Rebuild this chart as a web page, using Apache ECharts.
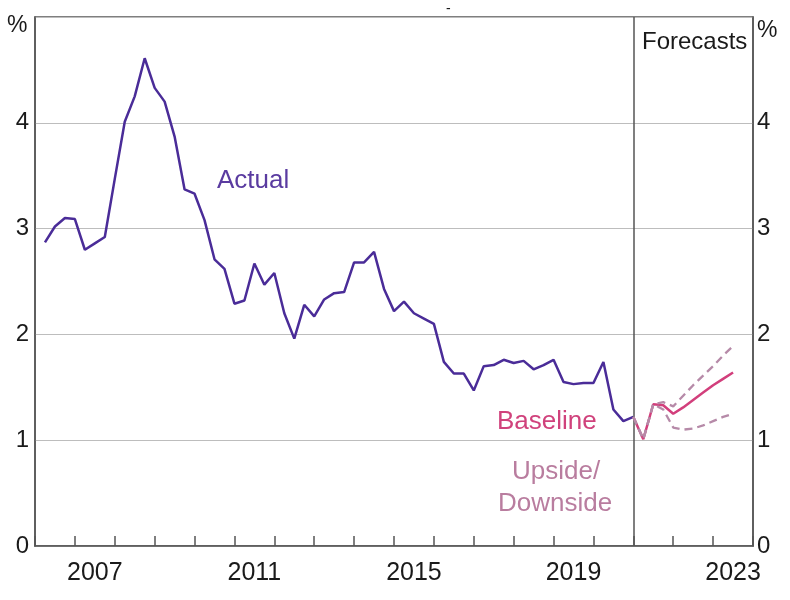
<!DOCTYPE html>
<html>
<head>
<meta charset="utf-8">
<script src="https://cdn.jsdelivr.net/npm/echarts@6/dist/echarts.min.js"></script>
<style>html,body{margin:0;padding:0;background:#fff}#c{width:790px;height:600px}</style>
</head>
<body>
<div id="c"></div>
<script>
// Quarterly data, plotted at end of quarter (year fraction)
const actualStart = 2006.25;
const actualValues = [2.87,3.02,3.10,3.09,2.80,2.86,2.92,3.47,4.01,4.25,4.61,4.33,4.20,3.87,3.37,3.33,
  3.08,2.71,2.62,2.29,2.32,2.67,2.47,2.58,2.20,1.96,2.28,2.17,2.33,2.39,2.40,2.68,2.68,2.78,2.43,2.22,
  2.31,2.20,2.15,2.10,1.74,1.63,1.63,1.47,1.70,1.71,1.76,1.73,1.75,1.67,1.71,1.76,1.55,1.53,1.54,1.54,
  1.74,1.29,1.18,1.22];
const forecastStart = 2021.0;
const baselineValues = [1.22,1.01,1.34,1.33,1.25,1.31,1.38,1.45,1.52,1.58,1.64];
const upsideValues   = [1.22,1.01,1.34,1.36,1.32,1.42,1.52,1.61,1.70,1.80,1.89];
const downsideValues = [1.22,1.01,1.34,1.29,1.12,1.10,1.11,1.14,1.18,1.22,1.25];
const xTickLabels = ['2007','2011','2015','2019','2023'];
const yTickValues = [0,1,2,3,4];
const forecastLine = 2021;

function pairs(start, vals){ return vals.map((v,i)=>[start + i*0.25, v]); }

const FONT = 'Liberation Sans, Arial, sans-serif';
const AX = '#555555';
const chart = echarts.init(document.getElementById('c'));
chart.setOption({
  animation:false,
  backgroundColor:'#ffffff',
  grid:{left:35,right:37,top:17,bottom:54,show:true,borderColor:AX,borderWidth:1.5,backgroundColor:'transparent'},
  xAxis:[{
    type:'value',min:2006,max:2024,interval:1,
    axisLine:{show:true,lineStyle:{color:AX,width:1.5}},
    axisTick:{show:true,inside:true,length:10,lineStyle:{color:AX,width:1.5}},
    axisLabel:{show:false},splitLine:{show:false}
  },{
    type:'value',min:2006,max:2024,interval:0.5,position:'bottom',
    axisLine:{show:false},axisTick:{show:false},splitLine:{show:false},
    axisLabel:{show:true,margin:15,fontSize:25,fontFamily:FONT,color:'#1a1a1a',
      formatter:function(v){const s=String(Math.floor(v));return (Math.abs(v%1-0.5)<1e-6 && xTickLabels.indexOf(s)>=0)?s:'';}}
  }],
  yAxis:[{
    type:'value',min:0,max:5,interval:1,position:'left',
    axisLine:{show:true,lineStyle:{color:AX,width:1.5}},axisTick:{show:false},
    splitLine:{show:true,lineStyle:{color:'#bdbdbd',width:1.2}},
    axisLabel:{margin:6,fontSize:24,fontFamily:FONT,color:'#1a1a1a',
      formatter:function(v){return yTickValues.indexOf(v)>=0?String(v):'';}}
  },{
    type:'value',min:0,max:5,interval:1,position:'right',
    axisLine:{show:true,lineStyle:{color:AX,width:1.5}},axisTick:{show:false},
    splitLine:{show:false},
    axisLabel:{margin:4,fontSize:24,fontFamily:FONT,color:'#1a1a1a',
      formatter:function(v){return yTickValues.indexOf(v)>=0?String(v):'';}}
  }],
  series:[
    {name:'Actual',type:'line',data:pairs(actualStart,actualValues),showSymbol:false,symbol:'none',
      lineStyle:{color:'#4a2c98',width:2.5},z:3,
      markLine:{silent:true,symbol:'none',label:{show:false},lineStyle:{color:AX,width:1.5,type:'solid'},
        data:[{xAxis:forecastLine}]}},
    {name:'Baseline',type:'line',data:pairs(forecastStart,baselineValues),symbol:'none',
      lineStyle:{color:'#d23f7c',width:2.5},z:4},
    {name:'Upside',type:'line',data:pairs(forecastStart,upsideValues),symbol:'none',
      lineStyle:{color:'#b68aa8',width:2.3,type:[8,5]},z:5},
    {name:'Downside',type:'line',data:pairs(forecastStart,downsideValues),symbol:'none',
      lineStyle:{color:'#b68aa8',width:2.3,type:[8,5]},z:5}
  ],
  graphic:[
    {type:'text',left:7,top:14,style:{text:'%',font:'23px '+FONT,fill:'#1a1a1a'}},
    {type:'text',left:757,top:19,style:{text:'%',font:'23px '+FONT,fill:'#1a1a1a'}},
    {type:'text',left:446,top:2,style:{text:'-',font:'14px '+FONT,fill:'#1a1a1a'}},
    {type:'text',left:642,top:30,style:{text:'Forecasts',font:'24px '+FONT,fill:'#1a1a1a'}},
    {type:'text',left:217,top:168,style:{text:'Actual',font:'26px '+FONT,fill:'#5a3ba0'}},
    {type:'text',left:497,top:409,style:{text:'Baseline',font:'26px '+FONT,fill:'#d0427c'}},
    {type:'text',left:512,top:459,style:{text:'Upside/',font:'26px '+FONT,fill:'#b97d9f'}},
    {type:'text',left:498,top:491,style:{text:'Downside',font:'26px '+FONT,fill:'#b97d9f'}}
  ]
});
</script>
</body>
</html>
